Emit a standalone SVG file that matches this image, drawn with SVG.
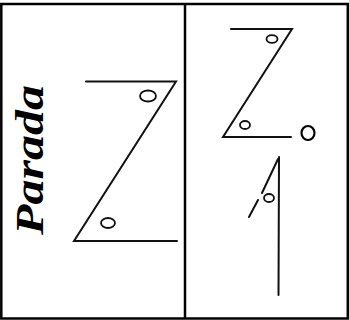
<svg xmlns="http://www.w3.org/2000/svg" width="349" height="320" viewBox="0 0 349 320">
<style>
.b{fill:none;stroke:#000;stroke-width:2.5}
.s{fill:none;stroke:#111;stroke-width:2;stroke-linecap:round}
.c{fill:none;stroke:#111;stroke-width:1.8}
.t{font-family:"Liberation Serif",serif;font-weight:bold;font-style:italic;font-size:40px;fill:#000}
</style>
<rect width="349" height="320" fill="#fff"/>
<g id="table">
<rect class="b" x="1.3" y="4" width="346.5" height="314.5"/>
<line class="b" x1="185" y1="4" x2="185" y2="318.5"/>
</g>
<g id="label">
<text class="t" transform="translate(43,160) rotate(-90)" text-anchor="middle" textLength="150" lengthAdjust="spacingAndGlyphs">Parada</text>
</g>
<g id="zleft">
<polyline class="s" points="86,81.5 176,81.5 74,241 177,241"/>
<ellipse class="c" cx="148" cy="96" rx="8" ry="5.5"/>
<ellipse class="c" cx="108" cy="223" rx="7" ry="5"/>
</g>
<g id="zright">
<polyline class="s" points="231,29 292,29 223,137 291,137"/>
<ellipse class="c" cx="272" cy="39" rx="5.5" ry="3.8"/>
<ellipse class="c" cx="245" cy="125" rx="5" ry="4"/>
<ellipse cx="308" cy="133" rx="6.5" ry="7" fill="none" stroke="#000" stroke-width="2.2"/>
</g>
<g id="connectors">
<line class="s" x1="279" y1="157" x2="278.5" y2="295"/>
<line class="s" x1="278" y1="159" x2="262" y2="193"/>
<line class="s" x1="258" y1="200" x2="249" y2="217"/>
<ellipse class="c" cx="269" cy="198" rx="5" ry="4"/>
</g>
</svg>
